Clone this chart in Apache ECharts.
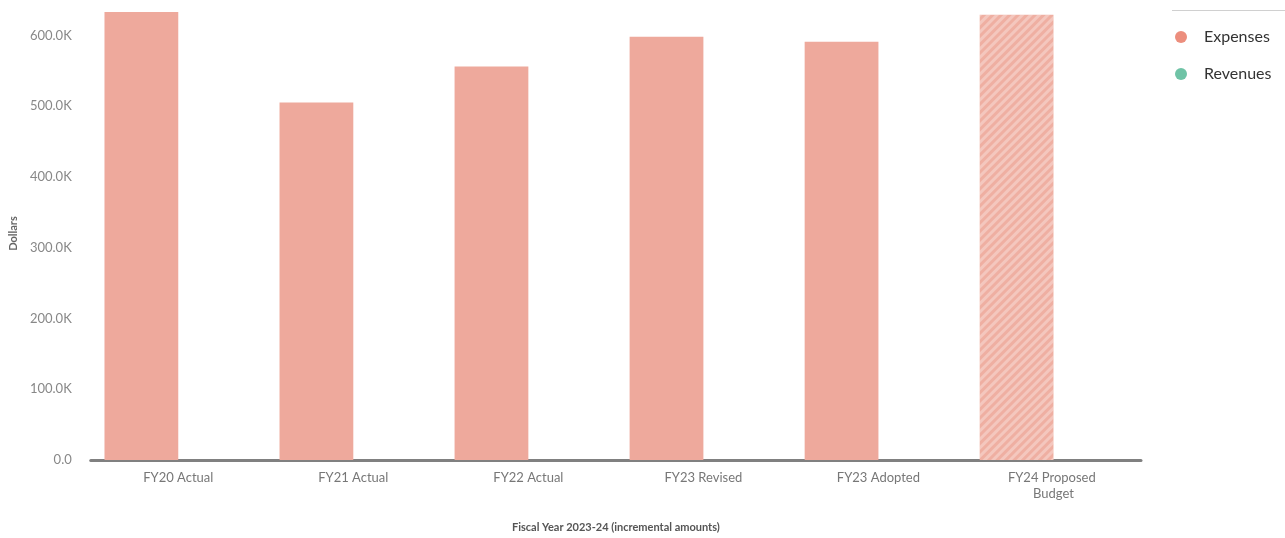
<!DOCTYPE html>
<html>
<head>
<meta charset="utf-8">
<script src="https://cdn.jsdelivr.net/npm/echarts@6/dist/echarts.min.js"></script>
<style>
html,body{margin:0;padding:0;background:#fff;}
#chart{width:1285px;height:538px;}
</style>
</head>
<body>
<div id="chart"></div>
<script>
const categories = ['FY20 Actual', 'FY21 Actual', 'FY22 Actual', 'FY23 Revised', 'FY23 Adopted', 'FY24 Proposed Budget'];
const expenses = [633000, 505000, 556000, 598000, 591000, 629000];
const revenues = [null, null, null, null, null, null];
const yTicks = [0, 100000, 200000, 300000, 400000, 500000, 600000];

const font = 'Lato, "Open Sans", sans-serif';
const chart = echarts.init(document.getElementById('chart'));

const expenseData = expenses.map((v, i) => {
  const item = { value: v, itemStyle: { color: '#eea99c' } };
  if (i === categories.length - 1) {
    item.itemStyle = {
      color: '#efafa2',
      decal: {
        symbol: 'rect',
        dashArrayX: [1, 0],
        dashArrayY: [3, 3],
        rotation: -Math.PI / 4,
        color: 'rgba(255,255,255,0.3)'
      }
    };
  }
  return item;
});

chart.setOption({
  animation: false,
  textStyle: { fontFamily: font },
  grid: { left: 84, right: 144, top: 7, bottom: 69 },
  legend: {
    orient: 'vertical',
    left: 1170,
    top: 24,
    itemGap: 21,
    itemWidth: 12,
    itemHeight: 12,
    icon: 'circle',
    textStyle: { fontSize: 16, color: '#333', fontFamily: font, padding: [0, 0, 0, 12] },
    data: [
      { name: 'Expenses', itemStyle: { color: '#ec8e7d' } },
      { name: 'Revenues', itemStyle: { color: '#6fc3a6' } }
    ]
  },
  graphic: [{
    type: 'line',
    shape: { x1: 1172, y1: 10.5, x2: 1285, y2: 10.5 },
    style: { stroke: '#d0d0d0', lineWidth: 1 }
  }],
  xAxis: {
    type: 'category',
    data: categories,
    name: 'Fiscal Year 2023-24 (incremental amounts)',
    nameLocation: 'middle',
    nameGap: 62,
    nameTextStyle: { fontSize: 11, fontWeight: 'bold', color: '#555', fontFamily: font },
    axisLine: { lineStyle: { color: '#808080', width: 3 } },
    axisTick: { show: false },
    axisLabel: {
      color: '#777', fontSize: 13, margin: 10, fontFamily: font,
      width: 110, overflow: 'break', lineHeight: 16
    }
  },
  yAxis: {
    type: 'value',
    min: 0,
    max: 640000,
    interval: 100000,
    name: 'Dollars',
    nameLocation: 'middle',
    nameGap: 70,
    nameRotate: 90,
    nameTextStyle: { fontSize: 11, fontWeight: 'bold', color: '#666', fontFamily: font },
    splitLine: { show: false },
    axisLine: { show: false },
    axisTick: { show: false },
    axisLabel: {
      color: '#888', fontSize: 13, margin: 19, fontFamily: font,
      showMaxLabel: false,
      formatter: v => yTicks.indexOf(v) >= 0 ? (v === 0 ? '0.0' : (v / 1000).toFixed(1) + 'K') : ''
    }
  },
  series: [
    {
      name: 'Expenses', type: 'bar', data: expenseData,
      barGap: '0%', barCategoryGap: '15.7%',
      itemStyle: { color: '#ec8e7d' }
    },
    {
      name: 'Revenues', type: 'bar', data: revenues,
      itemStyle: { color: '#6fc3a6' }
    }
  ]
});
</script>
</body>
</html>
